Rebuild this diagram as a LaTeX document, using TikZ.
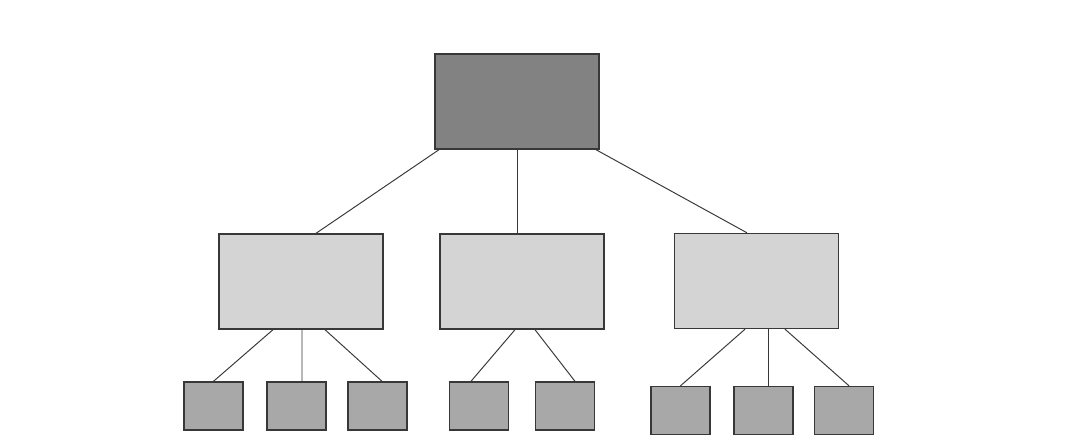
\documentclass[tikz,border=0pt]{standalone}
\usepackage{tikz}
\usetikzlibrary{calc}

\definecolor{rootgray}{HTML}{828282}
\definecolor{midgray}{HTML}{D4D4D4}
\definecolor{leafgray}{HTML}{A8A8A9}
\definecolor{edgegray}{HTML}{383838}

\tikzset{
  box/.style={draw=edgegray, line width=0.8pt, inner sep=0pt},
  rootbox/.style={box, fill=rootgray, minimum width=3.28cm, minimum height=1.9cm},
  midbox/.style={box, fill=midgray, minimum width=3.28cm, minimum height=1.9cm},
  leafbox/.style={box, fill=leafgray, minimum width=1.18cm, minimum height=0.96cm},
  conn/.style={draw=edgegray, line width=0.55pt}
}

\begin{document}
\begin{tikzpicture}[x=0.02cm, y=-0.02cm]
  \fill[white] (0,0) rectangle (1080,447);
  \useasboundingbox (0,0) rectangle (1080,447);

  \node[rootbox] (root) at (517,101.5) {};

  \node[midbox] (m1) at (301,281.5) {};
  \node[midbox] (m2) at (522,281.5) {};
  \node[midbox] (m3) at (756.5,281) {};

  \node[leafbox] (l1) at (213.5,406) {};
  \node[leafbox] (l2) at (296.5,406) {};
  \node[leafbox] (l3) at (377.5,406) {};
  \node[leafbox] (l4) at (479,406) {};
  \node[leafbox] (l5) at (565,406) {};
  \node[leafbox] (l6) at (680.5,410.5) {};
  \node[leafbox] (l7) at (763.5,410.5) {};
  \node[leafbox] (l8) at (844,410.5) {};

  \path[conn]
  ($(root.south)+(-78,0)$) edge ($(m1.north)+(15,0)$)
  (root.south)             edge ($(m2.north)+(-5,0)$)
  ($(root.south)+(79,0)$)  edge ($(m3.north)+(-9.5,0)$)
  ($(m1.south)+(-28,0)$)   edge (l1.north)
  ($(m1.south)+(1,0)$)     edge ($(l2.north)+(5.5,0)$)
  ($(m1.south)+(24,0)$)    edge ($(l3.north)+(4.5,0)$)
  ($(m2.south)+(-7,0)$)    edge ($(l4.north)+(-8,0)$)
  ($(m2.south)+(13,0)$)    edge ($(l5.north)+(10,0)$)
  ($(m3.south)+(-11.5,0)$) edge (l6.north)
  ($(m3.south)+(11.5,0)$)  edge ($(l7.north)+(4.5,0)$)
  ($(m3.south)+(28.5,0)$)  edge ($(l8.north)+(5,0)$)
  ;
\end{tikzpicture}
\end{document}
